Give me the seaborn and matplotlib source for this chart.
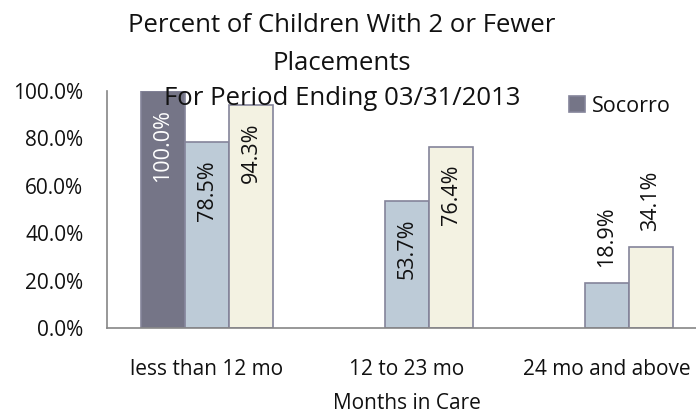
import seaborn as sns
import matplotlib.pyplot as plt
import numpy as np
import pandas as pd
from matplotlib.ticker import FuncFormatter, FixedLocator

categories = ["less than 12 mo", "12 to 23 mo", "24 mo and above"]
series_names = ["Socorro", "Series 2", "Series 3"]
socorro = [100.0, np.nan, np.nan]
series2 = [78.5, 53.7, 18.9]
series3 = [94.3, 76.4, 34.1]
colors = ["#72728a", "#b9cbdb", "#f6f4df"]
title_lines = ["Percent of Children With 2 or Fewer", "Placements",
               "For Period Ending 03/31/2013"]

sns.set_style("white")
plt.rcParams["font.family"] = ["Open Sans", "DejaVu Sans"]
plt.rcParams["text.color"] = "#111111"

rows = []
for name, vals in zip(series_names, [socorro, series2, series3]):
    for cat, v in zip(categories, vals):
        rows.append({"cat": cat, "series": name, "value": v / 100})
df = pd.DataFrame(rows)

fig = plt.figure(figsize=(6.96, 4.15), dpi=100)
ax = fig.add_axes([107 / 696, 87 / 415, 600 / 696, 237 / 415])

sns.barplot(data=df, x="cat", y="value", hue="series", order=categories,
            hue_order=series_names, palette=colors, width=0.66,
            edgecolor="#84849a", linewidth=1.2, ax=ax, legend=True)

ax.set_xlim(-0.5, 2.5)
ax.set_ylim(0, 1.0)
ax.yaxis.set_major_locator(FixedLocator(np.arange(0, 1.01, 0.2)))
ax.yaxis.set_major_formatter(FuncFormatter(lambda v, p: f"{v * 100:.1f}%"))
ax.set_xticks([0, 1, 2], categories)
ax.set_xticks([-0.5, 0.5, 1.5, 2.5], minor=True)
ax.tick_params(axis="x", which="major", length=0, labelsize=15, pad=22, labelcolor="#111111")
ax.tick_params(axis="x", which="minor", length=7, color="#868686", direction="out")
ax.tick_params(axis="y", length=7, color="#868686", direction="out", labelsize=15, pad=10,
               labelcolor="#111111")
for s in ["top", "right"]:
    ax.spines[s].set_visible(False)
for s in ["left", "bottom"]:
    ax.spines[s].set_color("#868686")
    ax.spines[s].set_linewidth(1.2)
ax.set_xlabel("Months in Care", fontsize=15, color="#111111", va="center")
ax.xaxis.set_label_coords(0.5, -0.318)
ax.set_ylabel("")

for i, cont in enumerate(ax.containers):
    for bar in cont:
        h = bar.get_height()
        if np.isnan(h) or h == 0:
            continue
        x = bar.get_x() + bar.get_width() / 2
        txt = f"{h * 100:.1f}%"
        if h > 0.4:
            ax.annotate(txt, (x, h), xytext=(0, -13), textcoords="offset points",
                        rotation=90, ha="center", va="top", fontsize=15.5,
                        color="white" if i == 0 else "#111111")
        else:
            ax.annotate(txt, (x, h), xytext=(0, 12), textcoords="offset points",
                        rotation=90, ha="center", va="bottom", fontsize=15.5)

handles, labels = ax.get_legend_handles_labels()
ax.legend(handles[:1], labels[:1], loc="center left", bbox_to_anchor=(560 / 696, 1 - 106 / 415),
          bbox_transform=fig.transFigure, frameon=False, fontsize=15.5,
          handlelength=0.75, handleheight=0.75, handletextpad=0.35, borderaxespad=0)

for line, base in zip(title_lines, [32, 70, 105]):
    fig.text(342 / 696, 1 - base / 415, line, ha="center", va="baseline", fontsize=18.5)

fig.savefig("out.png", dpi=100)
